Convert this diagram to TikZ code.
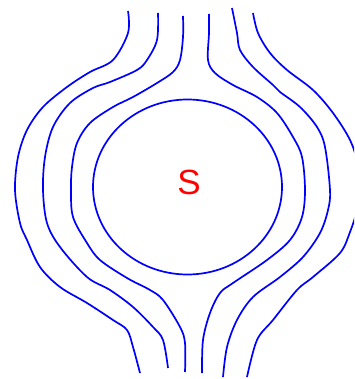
\documentclass[tikz,border=0pt]{standalone}
\usepackage{fontspec}
\newfontfamily\labelfont{Liberation Sans}
\begin{document}
\begin{tikzpicture}[x=1pt,y=-1pt,
  fieldline/.style={draw=blue,line width=1.7pt,line join=round},
  lbl/.style={text=red,font=\labelfont\fontsize{35}{35}\selectfont,inner sep=0pt}]
\useasboundingbox (0,0) rectangle (354,379);
\clip (0,0) rectangle (354,379);
% left lines
\draw[fieldline] plot[smooth,tension=0.55] coordinates {(128,11) (128,33) (113,60) (90,72) (67,87) (43,107) (27,130) (18,157) (15,190) (20,223) (27,240) (40,267) (60,287) (87,303) (113,320) (127,330) (133,347) (140,373)};
\draw[fieldline] plot[smooth,tension=0.55] coordinates {(158,13) (157,40) (147,60) (137,70) (110,82) (93,88) (70,103) (53,127) (45,157) (43,190) (47,223) (60,247) (87,277) (110,290) (133,307) (153,327) (163,340) (168,368)};
\draw[fieldline] plot[smooth,tension=0.55] coordinates {(183,16) (183,37) (180,60) (173,72) (157,83) (133,97) (113,107) (90,123) (77,143) (72,167) (71,190) (73,217) (87,243) (100,260) (127,278) (150,290) (163,300) (180,327) (185,343) (185,372)};
% right lines
\draw[fieldline] plot[smooth,tension=0.55] coordinates {(209,14) (209,33) (208,60) (215,73) (233,85) (257,97) (277,113) (293,137) (302,157) (305,190) (302,217) (290,240) (267,260) (233,283) (220,293) (210,313) (203,340) (202,373)};
\draw[fieldline] plot[smooth,tension=0.55] coordinates {(232,8) (237,33) (240,50) (253,67) (273,85) (280,92) (300,107) (317,127) (325,147) (330,190) (328,210) (320,233) (303,257) (280,277) (253,297) (237,320) (227,347) (223,377)};
\draw[fieldline] plot[smooth,tension=0.55] coordinates {(253,13) (258,33) (270,53) (287,70) (313,90) (333,113) (350,140) (358,165) (359,190) (357,210) (350,232) (340,253) (313,277) (297,290) (273,320) (257,340) (247,377)};
% circle
\draw[fieldline] (187.5,187) ellipse[x radius=94.5,y radius=87.5];
\node[lbl] (s) at (189,182) {S};
\end{tikzpicture}
\end{document}
